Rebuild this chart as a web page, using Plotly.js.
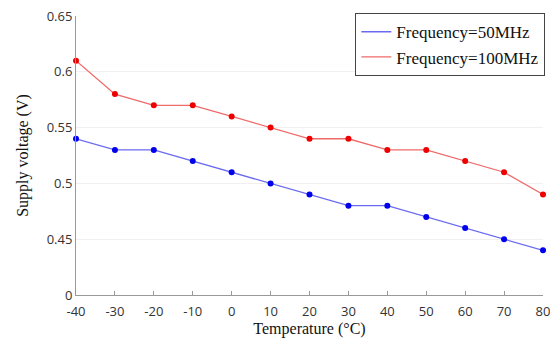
<!DOCTYPE html>
<html><head><meta charset="utf-8">
<script src="https://cdn.plot.ly/plotly-3.0.1.min.js"></script>
<style>html,body{margin:0;padding:0;background:#fff}#chart{width:550px;height:343px}</style>
</head><body><div id="chart"></div>
<script>
const temperature = [-40,-30,-20,-10,0,10,20,30,40,50,60,70,80];
const freq50 = [0.54,0.53,0.53,0.52,0.51,0.50,0.49,0.48,0.48,0.47,0.46,0.45,0.44];
const freq100 = [0.61,0.58,0.57,0.57,0.56,0.55,0.54,0.54,0.53,0.53,0.52,0.51,0.49];
const yTickVals = [0.4,0.45,0.5,0.55,0.6,0.65];
const yTickText = ["0","0.45","0.5","0.55","0.6","0.65"];
const xTickVals = [-40,-30,-20,-10,0,10,20,30,40,50,60,70,80];
const xTickText = ["-40","-30","-20","-10","0","10","20","30","40","50","60","70","80"];
const seriesNames = ["Frequency=50MHz", "Frequency=100MHz"];

const serif = "Liberation Serif, Times New Roman, serif";
const traces = [
 {x: temperature, y: freq50, name: seriesNames[0], mode: "lines",
  line: {color: "#6a6af0", width: 1.3}, cliponaxis: false},
 {x: temperature, y: freq100, name: seriesNames[1], mode: "lines",
  line: {color: "#f06a6a", width: 1.3}, cliponaxis: false},
 {x: temperature, y: freq50, name: seriesNames[0], mode: "markers", showlegend: false,
  marker: {color: "#0000ee", size: 6}, cliponaxis: false},
 {x: temperature, y: freq100, name: seriesNames[1], mode: "markers", showlegend: false,
  marker: {color: "#ee0000", size: 6}, cliponaxis: false}
];
const layout = {
 width: 550, height: 343,
 margin: {l: 76, r: 5, t: 16, b: 48},
 paper_bgcolor: "#fff", plot_bgcolor: "#fff",
 showlegend: true,
 legend: {x: 1.005, xanchor: "right", y: 1.01, yanchor: "top", bgcolor: "#fff",
   bordercolor: "#444", borderwidth: 1,
   font: {family: serif, size: 17, color: "#111"},
   tracegroupgap: 0, itemwidth: 30},
 xaxis: {range: [-40.001, 80.001], tickvals: xTickVals, ticktext: xTickText, showgrid: false, zeroline: false,
   showline: true, linecolor: "#999", linewidth: 1, ticks: "inside", ticklen: 4, tickcolor: "#999",
   ticklabelstandoff: 4, ticklabeloverflow: "allow",
   tickfont: {family: "Open Sans, sans-serif", size: 13, color: "#333"},
   title: {text: "Temperature (°C)", font: {family: serif, size: 16, color: "#111"}, standoff: 4}},
 yaxis: {range: [0.4, 0.65], tickvals: yTickVals, ticktext: yTickText, showgrid: true, gridcolor: "#f0f0f0",
   zeroline: false, showline: true, linecolor: "#999", linewidth: 1, ticks: "",
   tickfont: {family: "Open Sans, sans-serif", size: 13, color: "#333"},
   title: {text: "Supply voltage (V)", font: {family: serif, size: 16, color: "#111"}, standoff: 14}}
};
Plotly.newPlot("chart", traces, layout, {displayModeBar: false, staticPlot: true});
</script></body></html>
